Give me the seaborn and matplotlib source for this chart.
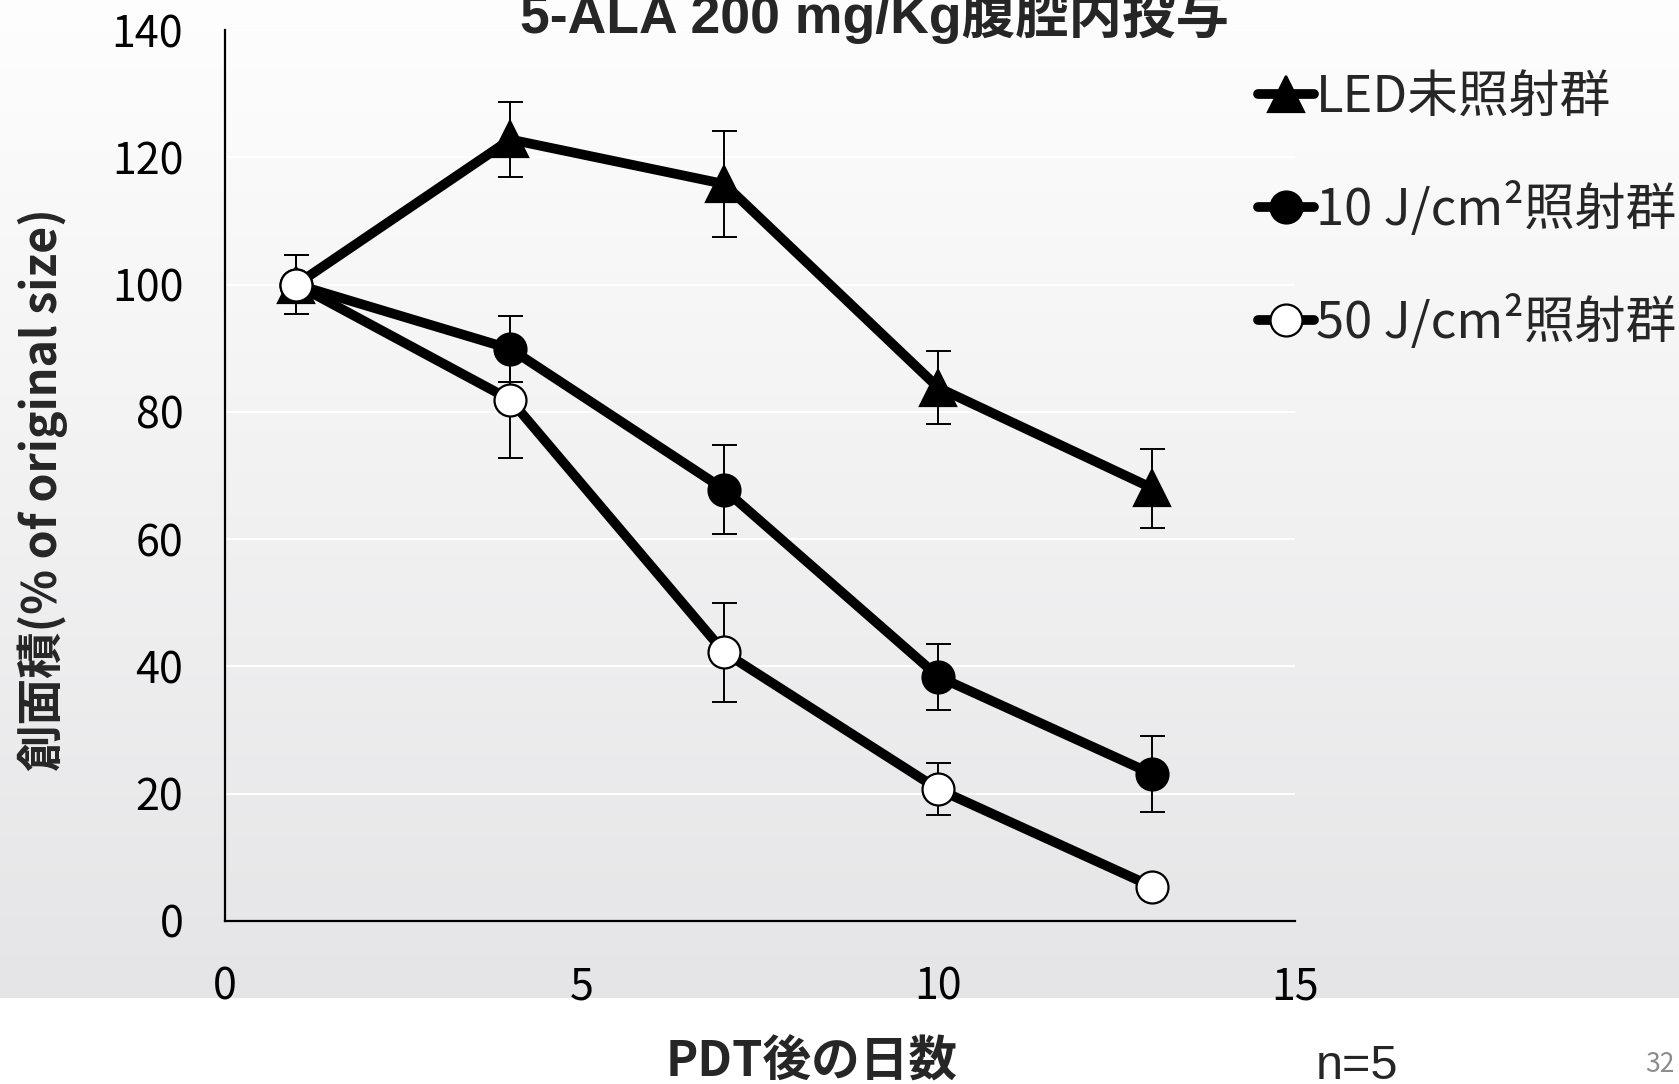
import numpy as np
import pandas as pd
import seaborn as sns
import matplotlib
matplotlib.use("Agg")
import matplotlib.pyplot as plt
from matplotlib.lines import Line2D

# ---- data -------------------------------------------------------------
days = [1, 4, 7, 10, 13]
groups = ["LED未照射群", "10 J/cm²照射群", "50 J/cm²照射群"]
led_mean = [100, 122.8, 115.8, 83.8, 68.0]
led_err = [4.7, 5.9, 8.3, 5.7, 6.2]
j10_mean = [100, 89.9, 67.8, 38.4, 23.1]
j10_err = [4.7, 5.2, 7.0, 5.2, 6.0]
j50_mean = [100, 81.9, 42.2, 20.7, 5.4]
j50_err = [4.7, 9.2, 7.8, 4.1, 1.0]

title = "5-ALA 200 mg/Kg腹腔内投与"
xlabel = "PDT後の日数"
ylabel = "創面積(% of original size)"
xticks = [0, 5, 10, 15]
yticks = [0, 20, 40, 60, 80, 100, 120, 140]

df = pd.DataFrame({
    "day": days * 3,
    "area": led_mean + j10_mean + j50_mean,
    "err": led_err + j10_err + j50_err,
    "group": np.repeat(groups, len(days)),
})

# ---- style ------------------------------------------------------------
sns.set_theme(style="white")
plt.rcParams["font.family"] = ["Noto Sans CJK JP", "DejaVu Sans"]

W, H = 1679, 1084
fig = plt.figure(figsize=(W / 100, H / 100), dpi=100)
fig.patch.set_facecolor("white")

# soft vertical gradient behind the plot area
bg = fig.add_axes([0, 1 - 998 / H, 1, 998 / H], zorder=-10)
grad = np.linspace(0, 1, 256)[:, None]
top = np.array([0.995, 0.995, 0.995])
bot = np.array([0.898, 0.898, 0.906])
img = top + (bot - top) * grad[..., None]
bg.imshow(np.repeat(img, 2, axis=1), aspect="auto", extent=[0, 1, 0, 1])
bg.set_axis_off()

ax = fig.add_axes([225 / W, 1 - 921 / H, (1295 - 225) / W, (921 - 30) / H])
ax.patch.set_alpha(0)

styles = {
    groups[0]: dict(marker="^", markerfacecolor="black", markersize=26),
    groups[1]: dict(marker="o", markerfacecolor="black", markersize=23),
    groups[2]: dict(marker="o", markerfacecolor="white", markersize=23),
}

handles = []
for i, g in enumerate(groups):
    sub = df[df["group"] == g]
    ax.errorbar(sub["day"], sub["area"], yerr=sub["err"], fmt="none",
                ecolor="black", elinewidth=1.4, capsize=9, capthick=1.4,
                zorder=2 + 2 * i)
    sns.lineplot(data=sub, x="day", y="area", ax=ax, color="black",
                 linewidth=7, markeredgecolor="black", markeredgewidth=1.6,
                 zorder=3 + 2 * i, legend=False, **styles[g])
    handles.append(Line2D([], [], color="black", linewidth=7,
                          markeredgecolor="black", markeredgewidth=1.6,
                          **styles[g]))

ax.set_xlim(0, 15)
ax.set_ylim(0, 140)
ax.set_xticks(xticks)
ax.set_yticks(yticks)
ax.set_xlabel("")
ax.set_ylabel("")
ax.yaxis.grid(True, color="white", linewidth=1.5)
ax.xaxis.grid(False)
for s in ["top", "right"]:
    ax.spines[s].set_visible(False)
for s in ["left", "bottom"]:
    ax.spines[s].set_color("black")
    ax.spines[s].set_linewidth(1.6)
ax.tick_params(axis="both", which="major", direction="out", length=10,
               width=1.4, color="black", labelsize=31, labelcolor="black")
ax.tick_params(axis="y", pad=20)
ax.tick_params(axis="x", pad=22)

leg = fig.legend(handles, groups, loc="upper left",
                 bbox_to_anchor=(1258 / W, 1 - 72 / H), frameon=False,
                 fontsize=36.5, handlelength=1.1, handletextpad=0.05,
                 labelspacing=1.14, borderpad=0, borderaxespad=0)

fig.text(875 / W, 1 - 33 / H, title, ha="center", va="baseline",
         fontsize=38.5, fontweight="bold",
         family=["Liberation Sans", "Noto Sans CJK JP"])
fig.text(43 / W, 1 - 490 / H, ylabel, ha="center", va="center",
         rotation=90, fontsize=33.5, fontweight="bold")
fig.text(812 / W, 1 - 1062 / H, xlabel, ha="center", va="center",
         fontsize=35, fontweight="bold")
fig.text(1357 / W, 1 - 1079 / H, "n=5", ha="center", va="baseline",
         fontsize=35, family=["Liberation Sans"])
fig.text(1660 / W, 1 - 1064 / H, "32", ha="center", va="center",
         fontsize=19, color="#8c8c8c")

fig.savefig("out.png", dpi=100)
